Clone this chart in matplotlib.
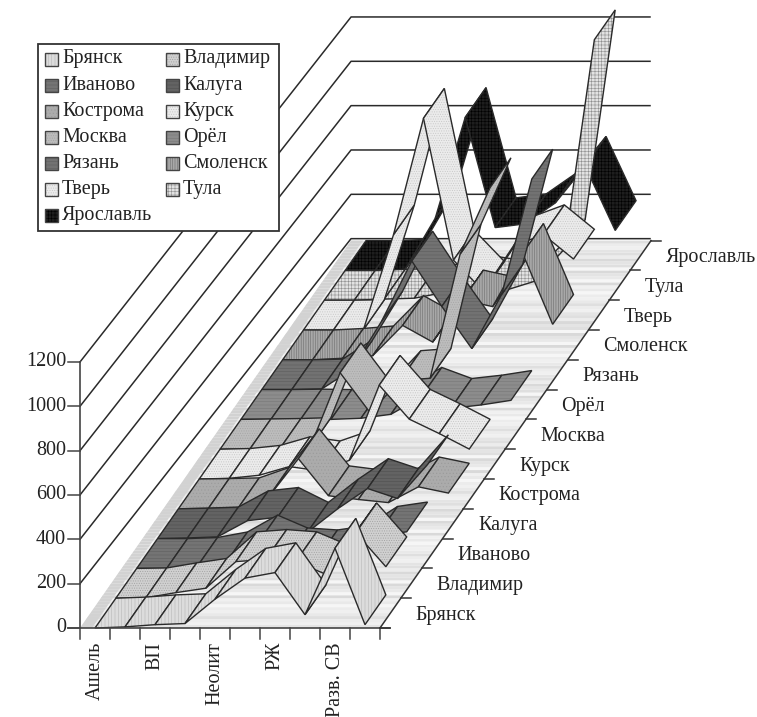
import matplotlib
matplotlib.use('Agg')
import matplotlib.pyplot as plt
from matplotlib.patches import Polygon, Rectangle

plt.rcParams['font.family'] = ['Liberation Serif', 'DejaVu Serif']
plt.rcParams['hatch.linewidth'] = 0.4

# данные
categories = ['Ашель', '', 'ВП', '', 'Неолит', '', 'РЖ', '', 'Разв. СВ', '']
regions = ['Брянск', 'Владимир', 'Иваново', 'Калуга', 'Кострома', 'Курск', 'Москва',
           'Орёл', 'Рязань', 'Смоленск', 'Тверь', 'Тула', 'Ярославль']
z_ticks = [0, 200, 400, 600, 800, 1000, 1200]

bryansk = [0, 5, 15, 20, 130, 225, 250, 60, 360, 15]
vladimir = [0, 2, 25, 45, 165, 175, 165, 108, 295, 142]
ivanovo = [0, 0, 5, 30, 106, 48, 39, 58, 145, 165]
kaluga = [0, 3, 8, 81, 96, 29, 134, 226, 181, 334]
kostroma = [0, 2, 5, 52, 226, 59, 42, 28, 99, 71]
kursk = [0, 3, 17, 56, 37, 84, 423, 270, 205, 135]
moskva = [0, 2, 4, 8, 345, 165, 310, 320, 880, 1180]
orel = [0, 0, 2, 0, 5, 23, 100, 50, 65, 86]
ryazan = [0, 0, 3, 90, 310, 580, 375, 185, 430, 950]
smolensk = [0, 0, 7, 18, 155, 80, 270, 240, 480, 160]
tver = [0, 0, 2, 430, 955, 315, 175, 380, 430, 320]
tula = [0, 0, 5, 9, 35, 64, 43, 85, 230, 1175]
yaroslavl = [0, 0, 5, 235, 690, 193, 210, 304, 470, 180]

series = [bryansk, vladimir, ivanovo, kaluga, kostroma, kursk, moskva,
          orel, ryazan, smolensk, tver, tula, yaroslavl]

colors = ['#dcdcdc', '#d0d0d0', '#747474', '#636363', '#ababab', '#ececec', '#bcbcbc',
          '#8c8c8c', '#727272', '#a8a8a8', '#ebebeb', '#e2e2e2', '#1e1e1e']
hatch_colors = ['#b8b8b8', '#a0a0a0', '#606060', '#505050', '#9a9a9a', '#c4c4c4', '#a4a4a4',
                '#787878', '#5e5e5e', '#6c6c6c', '#c6c6c6', '#8e8e8e', '#000000']
hatches = ['|||||', '.......', '-----', '-----', '.....', '.......', '.......',
           '-----', '-----', '|||||||', '.......', '+++++', '+++++']

LINE = '#2a2a2a'
WALL_RISE = 345  # стенка уходит вверх не так, как пол


# косоугольная проекция
def project(i, depth, z=0):
    x = 95 + 30 * i + 20.85 * depth
    y = 628 - 29.8 * depth - z * 0.2217
    return x, y


def ribbon_patch(ax, pts, face, hatch_col, hatch, order):
    ax.add_patch(Polygon(pts, closed=True, facecolor=face, edgecolor=hatch_col, lw=0,
                         hatch=hatch, zorder=order))
    ax.add_patch(Polygon(pts, closed=True, fill=False, edgecolor=LINE, lw=1.0, zorder=order))


fig = plt.figure(figsize=(7.57, 7.17), dpi=100)
ax = fig.add_axes([0, 0, 1, 1])
ax.set_xlim(0, 757)
ax.set_ylim(717, 0)
ax.axis('off')

# стенка
for z in z_ticks[1:]:
    x0, y0 = project(-0.5, 0, z)
    x1 = project(-0.5, 13)[0]
    y1 = y0 - WALL_RISE
    ax.plot([x0, x1, 650], [y0, y1, y1], color=LINE, lw=1.1, zorder=1)

# пол с полосами
stripes = ['#e4e4e4', '#f0f0f0', '#d9d9d9', '#ececec', '#f6f6f6', '#dfdfdf', '#e9e9e9']
n_bands = 130
for k in range(n_bands):
    d0, d1 = 13 * k / n_bands, 13 * (k + 1) / n_bands
    pts = [project(-0.5, d0), project(9.5, d0), project(9.5, d1), project(-0.5, d1)]
    ax.add_patch(Polygon(pts, facecolor=stripes[(k * 5 // 3) % 7], edgecolor='none', zorder=2))
    # тёмная кромка слева
    pts = [project(-0.5, d0), project(-0.1, d0), project(-0.1, d1), project(-0.5, d1)]
    ax.add_patch(Polygon(pts, facecolor='#d2d2d2', edgecolor='none', zorder=2))

# ленты: сзади вперёд, слева направо
order = 3
for j in range(len(series) - 1, -1, -1):
    vals = series[j]
    for i in range(len(vals) - 1):
        pts = [project(i, j, vals[i]), project(i + 1, j, vals[i + 1]),
               project(i + 1, j + 1, vals[i + 1]), project(i, j + 1, vals[i])]
        ribbon_patch(ax, pts, colors[j], hatch_colors[j], hatches[j], order)
        order += 1
top = order + 1

# ось значений
ax.plot([80, 80], [project(-0.5, 0, 1200)[1], 628], color='#444444', lw=1.2, zorder=top)
for z in z_ticks:
    y = project(-0.5, 0, z)[1]
    ax.plot([68, 80], [y, y], color='#444444', lw=1.1, zorder=top)
    ax.text(66, y, str(z), ha='right', va='center', fontsize=14.5, color='#222222', zorder=top)

# ось категорий
ax.plot([68, 390], [628, 628], color='#444444', lw=1.2, zorder=top)
for i in range(len(categories) + 1):
    x = project(i - 0.5, 0)[0]
    ax.plot([x, x], [628, 639], color='#444444', lw=1.1, zorder=top)
for i, label in enumerate(categories):
    if label:
        ax.text(project(i, 0)[0], 642, label, rotation=90, ha='center', va='top',
                fontsize=14.5, color='#222222', zorder=top)

# ось регионов
x0, y0 = project(9.5, 0)
x1, y1 = project(9.5, 13)
ax.plot([x0, x1], [y0, y1], color='#333333', lw=1.1, zorder=top)
for j in range(len(regions) + 1):
    x, y = project(9.5, j)
    ax.plot([x, x + 10], [y, y], color='#333333', lw=1.1, zorder=top)
for j, label in enumerate(regions):
    x, y = project(9.5, j + 0.5)
    ax.text(x + 25, y + 2, label, ha='left', va='center', fontsize=14.5, color='#222222', zorder=top)

# легенда
ax.add_patch(Rectangle((38, 44), 241, 187, facecolor='white', edgecolor='#333333', lw=1.3, zorder=top))
for j, label in enumerate(regions):
    row, col = j // 2, j % 2
    sx = 45 + 121 * col
    sy = 59 + 26.1 * row
    ax.add_patch(Rectangle((sx, sy - 6.5), 13, 13, facecolor=colors[j], edgecolor=hatch_colors[j], lw=0,
                           hatch=hatches[j], zorder=top + 1))
    ax.add_patch(Rectangle((sx, sy - 6.5), 13, 13, fill=False, edgecolor='#444444', lw=1.0, zorder=top + 1))
    ax.text(sx + 17, sy, label, ha='left', va='center', fontsize=14.5, color='#222222', zorder=top + 1)

fig.savefig('out.png', dpi=100)
